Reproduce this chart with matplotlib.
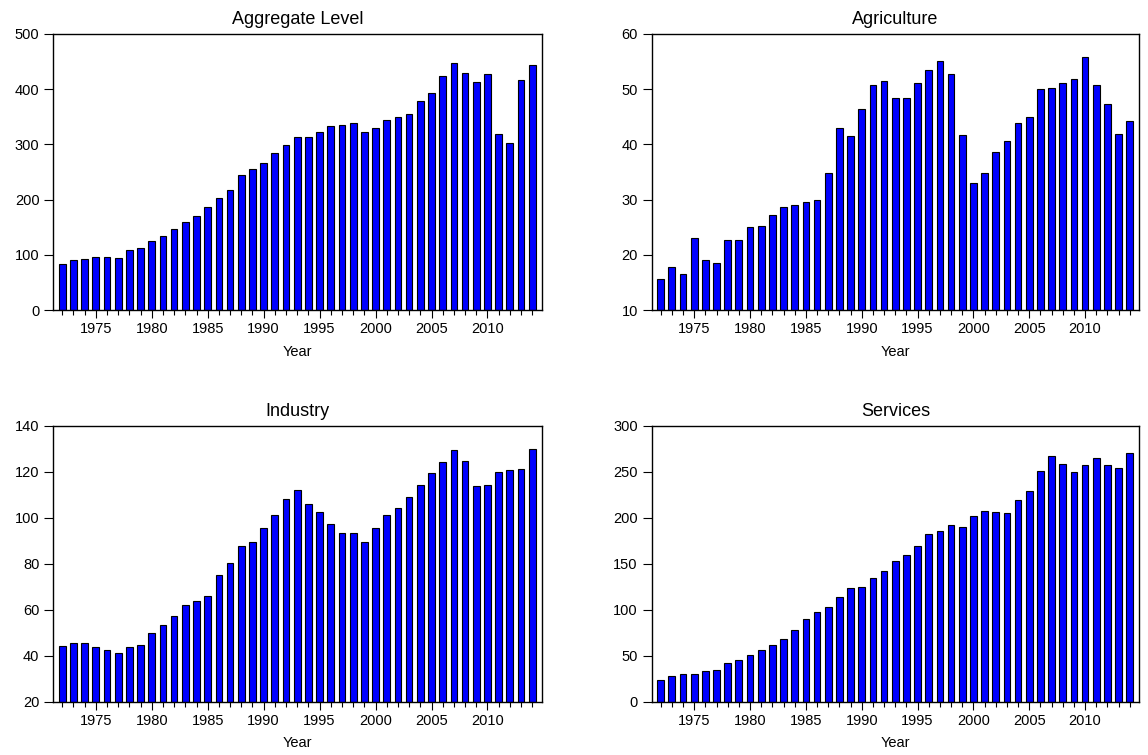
import matplotlib
matplotlib.use("Agg")
import matplotlib.pyplot as plt
from matplotlib.ticker import MultipleLocator, FixedLocator

plt.rcParams['font.family'] = ['Liberation Sans', 'DejaVu Sans']

years = list(range(1972, 2015))

aggregate = [83.3, 91.2, 92.4, 95.4, 95.4, 94.2, 108.7, 112.3, 125.6, 134.7,
             146.1, 159.4, 170.3, 186.0, 202.3, 216.8, 244.6, 254.8, 266.3, 285.0,
             298.3, 314.0, 313.4, 322.5, 332.7, 334.5, 338.8, 321.9, 330.3, 344.2,
             349.0, 355.0, 378.6, 392.5, 424.5, 447.5, 429.3, 413.0, 428.1, 318.8,
             303.1, 416.7, 444.4]

agriculture = [15.6, 17.7, 16.6, 23.0, 19.1, 18.6, 22.7, 22.6, 25.0, 25.2,
               27.2, 28.6, 29.0, 29.6, 29.9, 34.8, 43.0, 41.5, 46.5, 50.8,
               51.5, 48.4, 48.4, 51.1, 53.4, 55.1, 52.7, 41.7, 33.0, 34.9,
               38.7, 40.6, 43.9, 44.9, 50.0, 50.3, 51.1, 51.9, 55.9, 50.8,
               47.4, 41.9, 44.2]

industry = [44.4, 45.5, 45.5, 43.8, 42.6, 41.2, 43.8, 44.7, 49.9, 53.4,
            57.4, 62.1, 64.0, 66.1, 75.0, 80.4, 87.9, 89.5, 95.7, 101.4,
            108.2, 112.1, 105.9, 102.4, 97.3, 93.4, 93.6, 89.5, 95.7, 101.4,
            104.4, 109.1, 114.3, 119.4, 124.5, 129.4, 124.8, 113.7, 114.3, 120.0,
            120.8, 121.3, 130.0]

services = [23.6, 27.9, 29.7, 30.1, 33.4, 34.5, 42.1, 45.0, 50.8, 56.2,
            61.7, 67.8, 78.3, 90.3, 97.6, 102.6, 114.3, 123.7, 124.8, 134.9,
            141.8, 153.4, 159.2, 169.0, 182.4, 185.7, 192.6, 190.1, 201.7, 207.5,
            206.0, 205.3, 219.8, 229.6, 250.6, 267.0, 258.3, 249.5, 257.9, 265.5,
            257.2, 254.3, 270.6]

titles = ["Aggregate Level", "Agriculture", "Industry", "Services"]
series = [aggregate, agriculture, industry, services]
y_ranges = [(0, 500, 100), (10, 60, 10), (20, 140, 20), (0, 300, 50)]
year_ticks = [1975, 1980, 1985, 1990, 1995, 2000, 2005, 2010]

# axes rectangles in figure fractions [left, bottom, width, height]
rects = [
    [0.0464, 0.5894, 0.4255, 0.3656],
    [0.5677, 0.5894, 0.4247, 0.3656],
    [0.0464, 0.0706, 0.4255, 0.3652],
    [0.5677, 0.0706, 0.4247, 0.3652],
]

fig = plt.figure(figsize=(11.48, 7.55), dpi=100)

for rect, title, vals, (lo, hi, step) in zip(rects, titles, series, y_ranges):
    ax = fig.add_axes(rect)
    ax.bar(years, [v - lo for v in vals], bottom=lo, width=0.6,
           color="#0000FF", edgecolor="black", linewidth=0.8, zorder=2)
    ax.set_xlim(1971.2, 2014.85)
    ax.set_ylim(lo, hi)
    ax.yaxis.set_major_locator(MultipleLocator(step))
    ax.xaxis.set_major_locator(FixedLocator(year_ticks))
    ax.xaxis.set_minor_locator(MultipleLocator(1))
    ax.tick_params(axis="x", which="major", direction="out", length=5.8,
                   width=0.8, labelsize=10.5, pad=3)
    ax.tick_params(axis="x", which="minor", direction="out", length=3.6,
                   width=0.8)
    ax.tick_params(axis="y", which="major", direction="out", length=6.5,
                   width=0.8, labelsize=10.5, pad=3.5)
    for side in ["left", "bottom", "top", "right"]:
        ax.spines[side].set_linewidth(1.0)
        ax.spines[side].set_color("black")
    ax.set_title(title, fontsize=13, pad=7)
    ax.set_xlabel("Year", fontsize=10.5, labelpad=6)

fig.savefig("out.png", dpi=100)
